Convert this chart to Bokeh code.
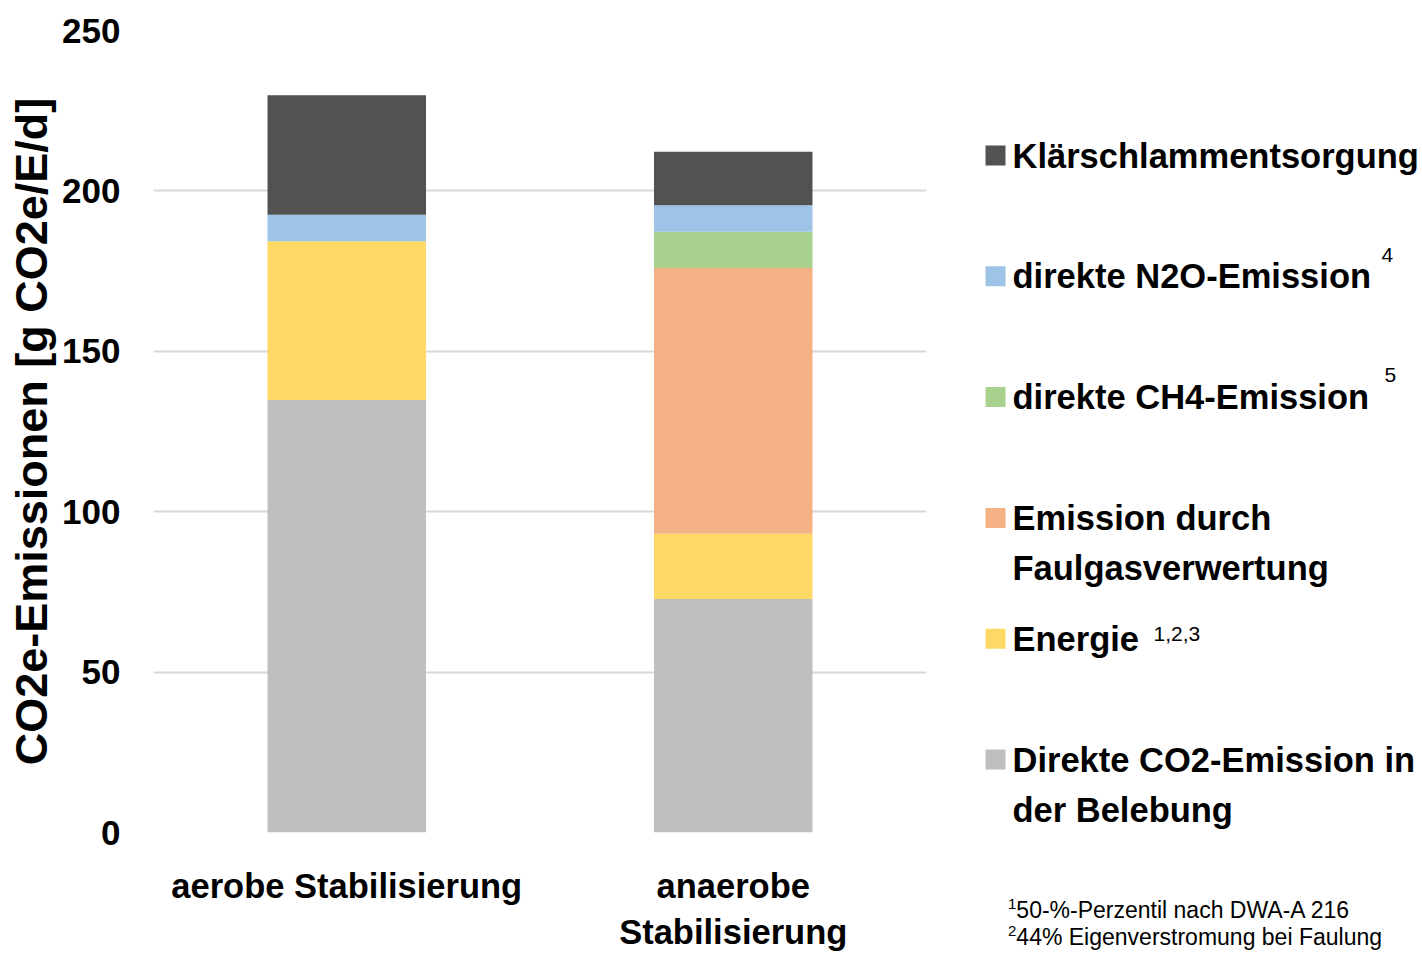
from bokeh.plotting import figure
from bokeh.layouts import row, column
from bokeh.models import ColumnDataSource, Range1d, FactorRange, Div
from bokeh.core.properties import value
from bokeh.embed import file_html
from bokeh.resources import INLINE

# CO2e emissions per inhabitant and day [g CO2e/E/d]
categories = ["aerobe Stabilisierung", "anaerobe\nStabilisierung"]
co2_belebung = [134.8, 72.8]
energie = [49.5, 20.3]
faulgas = [0.0, 82.9]
ch4 = [0.0, 11.3]
n2o = [8.3, 8.2]
klaerschlamm = [37.2, 16.7]

# stacking order, bottom to top
stack_keys = ["co2_belebung", "energie", "faulgas", "ch4", "n2o", "klaerschlamm"]
stack_colors = ["#bfbfbf", "#ffd966", "#f4b183", "#a9d18e", "#9dc3e6", "#525252"]

# legend, top to bottom
legend_labels = ["Klärschlammentsorgung", "direkte N2O-Emission", "direkte CH4-Emission",
                 "Emission durch\nFaulgasverwertung", "Energie",
                 "Direkte CO2-Emission in\nder Belebung"]
legend_colors = ["#525252", "#9dc3e6", "#a9d18e", "#f4b183", "#ffd966", "#bfbfbf"]
legend_notes = ["", "4", "5", "", "1,2,3", ""]
footnote_marks = ["1", "2"]
footnotes = ["50-%-Perzentil nach DWA-A 216", "44% Eigenverstromung bei Faulung"]
y_ticks = [0, 50, 100, 150, 200, 250]

FONT = "Liberation Sans"
BOLD_SIZE = "34.5px"
FRAME_TOP, FRAME_BOTTOM = 30, 833          # frame edges, px from the top

source = ColumnDataSource(dict(
    cat=categories, co2_belebung=co2_belebung, energie=energie, faulgas=faulgas,
    ch4=ch4, n2o=n2o, klaerschlamm=klaerschlamm,
))

p = figure(x_range=FactorRange(*categories), y_range=Range1d(0, 250),
           width=960, height=953, output_backend="svg", toolbar_location=None,
           min_border_left=153, min_border_right=34, min_border_top=FRAME_TOP,
           min_border_bottom=953 - FRAME_BOTTOM)
p.outline_line_color = None
p.vbar_stack(stack_keys, x="cat", width=0.41, color=stack_colors, source=source,
             line_color=None)

p.xgrid.grid_line_color = None
p.ygrid.grid_line_color = "#d9d9d9"
p.ygrid.grid_line_width = 2
p.ygrid.ticker = y_ticks

p.yaxis.ticker = y_ticks
p.yaxis.axis_line_color = None
p.yaxis.major_tick_line_color = None
p.yaxis.minor_tick_line_color = None
p.yaxis.major_label_standoff = 27
p.yaxis.major_label_text_font = FONT
p.yaxis.major_label_text_font_style = "bold"
p.yaxis.major_label_text_font_size = "35px"
p.yaxis.major_label_text_color = "#000000"
p.yaxis.axis_label = "CO2e-Emissionen [g CO2e/E/d]"
p.yaxis.axis_label_text_font = FONT
p.yaxis.axis_label_text_font_style = "bold"
p.yaxis.axis_label_text_font_size = "45px"
p.yaxis.axis_label_text_color = "#000000"
p.yaxis.axis_label_standoff = 2

p.xaxis.axis_line_color = None
p.xaxis.major_tick_line_color = None
p.xaxis.minor_tick_line_color = None
p.xaxis.major_label_standoff = 28
p.xaxis.major_label_text_font = FONT
p.xaxis.major_label_text_font_style = "bold"
p.xaxis.major_label_text_font_size = BOLD_SIZE
p.xaxis.major_label_text_color = "#000000"
p.xaxis.major_label_text_line_height = 1.22

# legend panel; its frame spans the same rows as the chart frame, coordinates in px
LG_HEIGHT = 880
lg = figure(width=462, height=LG_HEIGHT, x_range=Range1d(0, 462),
            y_range=Range1d(FRAME_BOTTOM, FRAME_TOP),
            output_backend="svg", toolbar_location=None,
            min_border_left=0, min_border_right=0, min_border_top=FRAME_TOP,
            min_border_bottom=LG_HEIGHT - FRAME_BOTTOM,
            x_axis_location=None, y_axis_location=None)
lg.outline_line_color = None
lg.grid.visible = False

row_y = [155 + i * 120.8 for i in range(len(legend_labels))]
lg.rect(x=[35] * len(legend_labels), y=row_y, width=20, height=20,
        color=legend_colors, line_color=None)

tx, ty, tt = [], [], []
for y0, lab in zip(row_y, legend_labels):
    for j, line in enumerate(lab.split("\n")):
        tx.append(52)
        ty.append(y0 + j * 50)
        tt.append(line)
lg.text(x=tx, y=ty, text=tt, text_font=value(FONT), text_font_style="bold",
        text_font_size=BOLD_SIZE, text_baseline="middle", text_align="left",
        text_color="#000000")

note_x = [0, 421, 424, 0, 193, 0]
note_dy = [0, -21, -22, 0, -5, 0]
nx, ny, nt = [], [], []
for x0, y0, dy, note in zip(note_x, row_y, note_dy, legend_notes):
    if note:
        nx.append(x0)
        ny.append(y0 + dy)
        nt.append(note)
lg.text(x=nx, y=ny, text=nt, text_font=value(FONT), text_font_size="21px",
        text_baseline="middle", text_align="left", text_color="#000000")

# footnotes below the legend
notes_html = "<br>".join(
    f'<sup style="font-size:15px;line-height:0">{m}</sup>{t}'
    for m, t in zip(footnote_marks, footnotes))
notes = Div(text=notes_html, width=462, height=953 - LG_HEIGHT, margin=0,
            styles={"font-family": FONT, "font-size": "23px", "line-height": "27px",
                    "color": "#000000", "padding-left": "48px", "padding-top": "17px",
                    "white-space": "nowrap"})

layout = row(p, column(lg, notes, spacing=0), spacing=0)
open("out.html", "w").write(file_html(layout, INLINE))
